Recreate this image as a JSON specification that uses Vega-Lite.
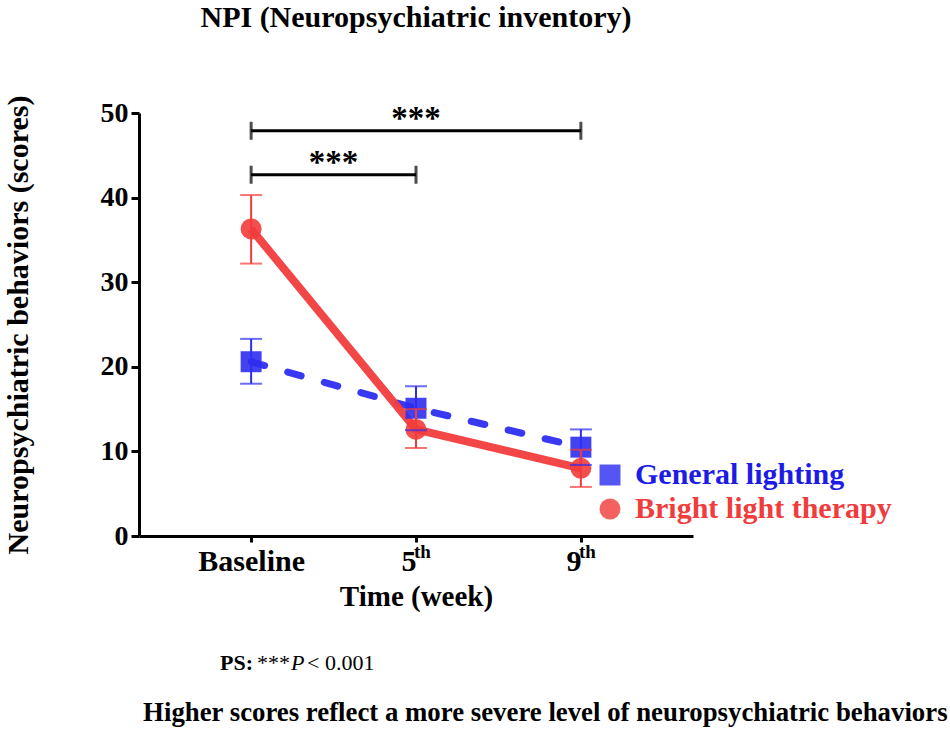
{
  "$schema": "https://vega.github.io/schema/vega-lite/v6.json",
  "autosize": {"type": "none"},
  "padding": {"left": 139, "top": 113, "right": 257, "bottom": 196},
  "width": 554,
  "height": 423,
  "background": "white",
  "title": {
    "text": "NPI (Neuropsychiatric inventory)",
    "font": "Liberation Serif",
    "fontSize": 30,
    "fontWeight": "bold",
    "color": "black",
    "anchor": "middle",
    "frame": "group",
    "offset": 62
  },
  "datasets": {
    "scores": [
      {"group": "General lighting", "t": 0, "mean": 20.6, "lo": 18.0, "hi": 23.3},
      {"group": "General lighting", "t": 1, "mean": 15.1, "lo": 12.5, "hi": 17.7},
      {"group": "General lighting", "t": 2, "mean": 10.5, "lo": 8.4, "hi": 12.6},
      {"group": "Bright light therapy", "t": 0, "mean": 36.3, "lo": 32.2, "hi": 40.3},
      {"group": "Bright light therapy", "t": 1, "mean": 12.6, "lo": 10.4, "hi": 15.0},
      {"group": "Bright light therapy", "t": 2, "mean": 8.0, "lo": 5.8, "hi": 10.2}
    ],
    "brackets": [
      {"from": 0, "to": 2, "y": 47.9, "label": "***"},
      {"from": 0, "to": 1, "y": 42.7, "label": "***"}
    ]
  },
  "data": {"name": "scores"},
  "encoding": {
    "x": {
      "field": "t",
      "type": "quantitative",
      "scale": {"domain": [-0.68, 2.68], "nice": false, "zero": false},
      "axis": {
        "values": [0, 1, 2],
        "title": "Time (week)",
        "titleFont": "Liberation Serif",
        "titleFontSize": 29,
        "titleFontWeight": "bold",
        "titleColor": "black",
        "titlePadding": 6,
        "labelExpr": "datum.value == 0 ? 'Baseline' : datum.value == 1 ? '5' : '9'",
        "labelAlign": {"condition": {"test": "datum.value > 0", "value": "right"}, "value": "center"},
        "labelFont": "Liberation Serif",
        "labelFontSize": 30,
        "labelFontWeight": "bold",
        "labelColor": "black",
        "labelPadding": 4,
        "labelFlush": false,
        "labelOverlap": false,
        "grid": false,
        "domainColor": "black",
        "domainWidth": 3,
        "tickColor": "black",
        "tickWidth": 3,
        "tickSize": 6
      }
    },
    "y": {
      "field": "mean",
      "type": "quantitative",
      "scale": {"domain": [0, 50], "nice": false},
      "axis": {
        "values": [0, 10, 20, 30, 40, 50],
        "title": "Neuropsychiatric behaviors (scores)",
        "titleFont": "Liberation Serif",
        "titleFontSize": 30,
        "titleFontWeight": "bold",
        "titleColor": "black",
        "titlePadding": 67,
        "labelFont": "Liberation Serif",
        "labelFontSize": 28,
        "labelFontWeight": "bold",
        "labelColor": "black",
        "labelPadding": 3,
        "grid": false,
        "domainColor": "black",
        "domainWidth": 3,
        "tickColor": "black",
        "tickWidth": 3,
        "tickSize": 8
      }
    }
  },
  "layer": [
    {
      "transform": [{"filter": "datum.group == 'General lighting'"}],
      "mark": {"type": "line", "color": "#2e2ef0", "strokeWidth": 7, "strokeDash": [14, 24], "strokeCap": "round", "opacity": 0.95}
    },
    {
      "transform": [{"filter": "datum.group == 'Bright light therapy'"}],
      "mark": {"type": "line", "color": "#f23c3c", "strokeWidth": 8, "opacity": 0.95}
    },
    {
      "mark": {"type": "point", "filled": true, "opacity": 0.9, "size": 440},
      "encoding": {
        "color": {
          "field": "group",
          "type": "nominal",
          "scale": {"domain": ["General lighting", "Bright light therapy"], "range": ["#2e2ef0", "#f23c3c"]},
          "legend": {
            "orient": "none",
            "legendX": 456,
            "legendY": 347,
            "title": null,
            "direction": "vertical",
            "padding": 0,
            "rowPadding": 4,
            "labelOffset": 10,
            "labelLimit": 400,
            "symbolSize": 440,
            "symbolOpacity": 0.9,
            "symbolStrokeWidth": 0,
            "labelFont": "Liberation Serif",
            "labelFontSize": 30,
            "labelFontWeight": "bold",
            "labelExpr": "datum.value == 'General lighting' ? '\u00a0\u00a0\u00a0' + datum.label : datum.label",
            "labelColor": {"expr": "datum.value == 'General lighting' ? '#1c1ce6' : '#f03c3c'"}
          }
        },
        "shape": {
          "field": "group",
          "type": "nominal",
          "scale": {"domain": ["General lighting", "Bright light therapy"], "range": ["square", "circle"]}
        }
      }
    },
    {
      "mark": {"type": "rule", "strokeWidth": 2},
      "encoding": {
        "y": {"field": "lo", "type": "quantitative"},
        "y2": {"field": "hi"},
        "color": {"field": "group", "type": "nominal", "legend": null}
      }
    },
    {
      "mark": {"type": "tick", "orient": "horizontal", "thickness": 2, "size": 22},
      "encoding": {
        "y": {"field": "lo", "type": "quantitative"},
        "color": {"field": "group", "type": "nominal", "legend": null}
      }
    },
    {
      "mark": {"type": "tick", "orient": "horizontal", "thickness": 2, "size": 22},
      "encoding": {
        "y": {"field": "hi", "type": "quantitative"},
        "color": {"field": "group", "type": "nominal", "legend": null}
      }
    },
    {
      "transform": [{"filter": "datum.group == 'General lighting' && datum.t > 0"}],
      "mark": {"type": "text", "text": "th", "align": "left", "baseline": "alphabetic", "dx": -2, "dy": 22, "font": "Liberation Serif", "fontSize": 19, "fontWeight": "bold", "color": "black"},
      "encoding": {
        "y": {"datum": 0, "type": "quantitative"}
      }
    },
    {
      "data": {"name": "brackets"},
      "mark": {"type": "rule", "color": "black", "strokeWidth": 3},
      "encoding": {
        "x": {"field": "from", "type": "quantitative"},
        "x2": {"field": "to"},
        "y": {"field": "y", "type": "quantitative"}
      }
    },
    {
      "data": {"name": "brackets"},
      "mark": {"type": "tick", "orient": "vertical", "color": "black", "thickness": 3, "size": 18},
      "encoding": {
        "x": {"field": "from", "type": "quantitative"},
        "y": {"field": "y", "type": "quantitative"}
      }
    },
    {
      "data": {"name": "brackets"},
      "mark": {"type": "tick", "orient": "vertical", "color": "black", "thickness": 3, "size": 18},
      "encoding": {
        "x": {"field": "to", "type": "quantitative"},
        "y": {"field": "y", "type": "quantitative"}
      }
    },
    {
      "data": {"name": "brackets"},
      "transform": [{"calculate": "(datum.from + datum.to) / 2", "as": "mid"}],
      "mark": {"type": "text", "align": "center", "baseline": "alphabetic", "dy": -2, "font": "Liberation Serif", "fontSize": 33, "fontWeight": "bold", "color": "black"},
      "encoding": {
        "x": {"field": "mid", "type": "quantitative"},
        "y": {"field": "y", "type": "quantitative"},
        "text": {"field": "label"}
      }
    },
    {
      "transform": [{"filter": "datum.group == 'General lighting' && datum.t == 0"}],
      "mark": {"type": "text", "text": "PS:", "align": "left", "baseline": "middle", "dx": -31, "dy": 127, "font": "Liberation Serif", "fontSize": 22, "fontWeight": "bold", "color": "black"},
      "encoding": {
        "y": {"datum": 0, "type": "quantitative"}
      }
    },
    {
      "transform": [{"filter": "datum.group == 'General lighting' && datum.t == 0"}],
      "mark": {"type": "text", "text": "***", "align": "left", "baseline": "middle", "dx": 6, "dy": 127, "font": "Liberation Serif", "fontSize": 22, "color": "black"},
      "encoding": {
        "y": {"datum": 0, "type": "quantitative"}
      }
    },
    {
      "transform": [{"filter": "datum.group == 'General lighting' && datum.t == 0"}],
      "mark": {"type": "text", "text": "P", "align": "left", "baseline": "middle", "dx": 40, "dy": 127, "font": "Liberation Serif", "fontSize": 22, "fontStyle": "italic", "color": "black"},
      "encoding": {
        "y": {"datum": 0, "type": "quantitative"}
      }
    },
    {
      "transform": [{"filter": "datum.group == 'General lighting' && datum.t == 0"}],
      "mark": {"type": "text", "text": "< 0.001", "align": "left", "baseline": "middle", "dx": 56, "dy": 127, "font": "Liberation Serif", "fontSize": 22, "color": "black"},
      "encoding": {
        "y": {"datum": 0, "type": "quantitative"}
      }
    },
    {
      "transform": [{"filter": "datum.group == 'General lighting' && datum.t == 0"}],
      "mark": {"type": "text", "text": "Higher scores reflect a more severe level of neuropsychiatric behaviors", "align": "left", "baseline": "middle", "dx": -108, "dy": 177, "font": "Liberation Serif", "fontSize": 26.8, "fontWeight": "bold", "color": "black"},
      "encoding": {
        "y": {"datum": 0, "type": "quantitative"}
      }
    }
  ],
  "config": {
    "view": {"stroke": null}
  }
}
